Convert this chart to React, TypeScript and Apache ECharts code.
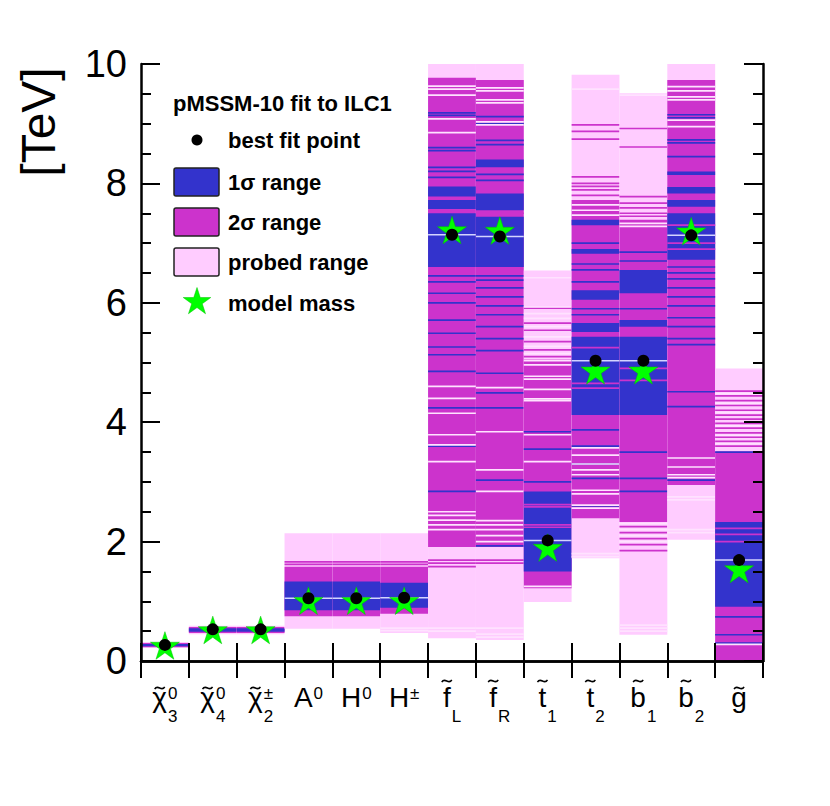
import React, { useEffect, useRef } from 'react';
import * as echarts from 'echarts';

const categories = ['chi3', 'chi4', 'chi2pm', 'A0', 'H0', 'Hpm', 'fL', 'fR', 't1', 't2', 'b1', 'b2', 'g'];
const labelBase = ['\u03C7', '\u03C7', '\u03C7', 'A', 'H', 'H', 'f', 'f', 't', 't', 'b', 'b', 'g'];
const labelTilde = ['low', 'low', 'low', '', '', '', 'high', 'high', 'high', 'high', 'high', 'high', 'low'];
const labelSub = ['3', '4', '2', '', '', '', 'L', 'R', '1', '2', '1', '2', ''];
const labelSup = ['0', '0', '\u00B1', '0', '0', '\u00B1', '', '', '', '', '', '', ''];

const yTicks = [0, 2, 4, 6, 8, 10];

const bestFit = [0.27, 0.53, 0.53, 1.05, 1.05, 1.06, 7.14, 7.11, 2.02, 5.03, 5.03, 7.13, 1.69];
const modelMass = [0.26, 0.52, 0.52, 1.01, 1.01, 1.01, 7.22, 7.21, 1.9, 4.87, 4.87, 7.2, 1.54];

const probedRange = [
  [0.22, 0.32], [0.45, 0.59], [0.45, 0.59], [0.54, 2.14], [0.54, 2.14], [0.47, 2.14],
  [0.38, 10], [0.35, 10], [0.99, 6.54], [1.72, 9.82], [0.44, 9.51], [2.03, 10], [0, 4.9],
];

const sigma2Ranges = [
  [[0.23, 0.3]],
  [[0.47, 0.57]],
  [[0.47, 0.57]],
  [[0.75, 1.58]],
  [[0.75, 1.58]],
  [[0.79, 1.58]],
  [[1.91, 9.77]],
  [[1.91, 9.73]],
  [[1.22, 5.05]],
  [[2.39, 7.72]],
  [[2.33, 7.39]],
  [[2.95, 9.73]],
  [[0, 3.51]],
];

const sigma1Ranges = [
  [[0.245, 0.285]],
  [[0.49, 0.55]],
  [[0.49, 0.55]],
  [[0.85, 1.33]],
  [[0.85, 1.33]],
  [[0.89, 1.31]],
  [[6.6, 7.5], [7.57, 7.72], [7.78, 7.95]],
  [[6.6, 7.44], [7.55, 7.83], [8.27, 8.4]],
  [[1.5, 2.84]],
  [[4.12, 5.43], [5.51, 5.66], [6.05, 6.21], [6.82, 6.9], [7.3, 7.39]],
  [[4.12, 5.43], [5.6, 5.71], [6.16, 6.55]],
  [[6.72, 7.5], [7.61, 7.72], [7.83, 7.94], [8.14, 8.2]],
  [[0.91, 2.33]],
];

const blueStripes = [
  [], [], [], [], [], [],
  [9.18, 9.14, 8.6, 8.55, 8.27, 8.2, 8.1, 6.45, 6.35, 6.16, 6.0, 5.71, 5.49, 5.26, 5.13, 4.85, 4.24, 3.6, 2.84],
  [9.12, 9.0, 8.72, 8.65, 8.15, 8.05, 6.45, 6.38, 6.25, 6.1, 5.95, 5.8, 5.6, 5.4, 5.2, 4.82, 4.49, 4.24, 3.03, 1.93],
  [3.84, 3.55, 3.0],
  [7.0, 6.65, 6.55, 6.35, 5.9, 5.8, 3.87, 3.6, 3.3, 3.06, 2.6],
  [6.85, 6.7, 5.9, 3.5, 3.06, 2.84],
  [9.15, 9.1, 8.73, 8.68, 8.45, 6.6, 6.5, 6.4, 6.25, 6.1, 5.95, 5.75, 5.6, 5.4, 5.3, 4.51, 4.26, 3.03],
  [3.5, 0.74, 0.44, 0.3],
];

const magentaStripes = [
  [], [], [],
  [1.66, 1.62], [1.66, 1.62], [1.66, 1.62],
  [1.69, 1.64, 1.58, 7.53, 7.75],
  [1.69, 1.64, 7.5],
  [5.91, 5.66, 5.54, 5.35, 5.21, 5.1, 2.62, 2.58, 2.28, 2.24],
  [8.98, 8.87, 8.74, 8.11, 8.0, 7.95, 7.89, 7.8, 4.65, 4.57, 5.25],
  [8.92, 8.61, 7.78, 7.67, 7.59, 7.5, 7.45, 4.9, 4.7, 2.25, 2.15, 2.05, 1.95, 1.85],
  [7.3, 7.0, 6.9],
  [4.52, 4.44, 4.36, 4.28, 4.2, 4.12, 4.05, 3.98, 3.9, 3.82, 3.75, 3.68, 3.6, 2.22, 2.12, 2.0],
];

const whiteStripes = [
  [], [], [], [], [],
  [0.55, 0.51],
  [9.63, 9.58, 9.48, 9.08, 8.85, 4.6, 4.4, 4.15, 3.79, 3.62, 3.34, 2.5, 2.44, 2.36, 2.28, 2.2, 0.55, 0.5],
  [9.6, 9.55, 9.4, 9.35, 9.03, 8.98, 4.58, 3.84, 3.2, 2.84, 2.35, 2.28, 2.2, 2.1, 2.0, 0.55, 0.45, 0.4],
  [6.42, 5.93, 5.82, 5.74, 5.6, 5.43, 5.27, 5.15, 5.03, 4.96, 4.77, 4.72, 4.55, 4.39, 4.36, 3.79, 3.34, 1.25],
  [9.58, 7.64, 7.55, 7.47, 3.57, 3.45, 3.3, 3.2, 3.12, 2.86, 2.8, 2.61, 2.56, 1.8, 1.75],
  [9.48, 7.33, 7.28, 2.3, 2.2, 2.1, 2.0, 0.6, 0.55, 0.5],
  [9.62, 9.55, 9.45, 9.4, 9.06, 8.95, 3.4, 3.25, 3.12, 3.07, 2.75, 2.7, 2.2, 2.15],
  [4.48, 4.32, 4.16, 3.94, 3.78, 3.64, 0.28],
];

const legendLabels = ['best fit point', '1\u03C3 range', '2\u03C3 range', 'probed range', 'model mass'];
const legendTitle = 'pMSSM-10 fit to ILC1';

const PINK = '#ffccff';
const MAGENTA = '#cc33cc';
const BLUE = '#3333cc';
const KIND_COLORS = [PINK, MAGENTA, BLUE, BLUE, MAGENTA, '#ffe2ff', '#d4d4ff'];
const FONT = '"Liberation Sans", Arial, Helvetica, sans-serif';

function starPoints(cx: number, cy: number, R: number): number[][] {
  const pts: number[][] = [];
  for (let k = 0; k < 10; k++) {
    const r = k % 2 === 0 ? R : R * 0.382;
    const a = -Math.PI / 2 + (k * Math.PI) / 5;
    pts.push([cx + r * Math.cos(a), cy + r * Math.sin(a)]);
  }
  return pts;
}

const starPath =
  'path://' +
  starPoints(0, 0, 10)
    .map((p, i) => (i === 0 ? 'M' : 'L') + p[0].toFixed(3) + ',' + p[1].toFixed(3))
    .join(' ') +
  ' Z';

export default function App() {
  const ref = useRef<HTMLDivElement>(null);
  useEffect(() => {
    const chart = echarts.init(ref.current!, null, { renderer: 'svg' });

    const bandData: number[][] = [];
    categories.forEach((_, i) => {
      bandData.push([i, probedRange[i][0], probedRange[i][1], 0]);
      sigma2Ranges[i].forEach((r) => bandData.push([i, r[0], r[1], 1]));
      sigma1Ranges[i].forEach((r) => bandData.push([i, r[0], r[1], 2]));
      blueStripes[i].forEach((v) => bandData.push([i, v, v, 3]));
      magentaStripes[i].forEach((v) => bandData.push([i, v, v, 4]));
      whiteStripes[i].forEach((v) => bandData.push([i, v, v, 5]));
      if (i >= 3) bandData.push([i, bestFit[i], bestFit[i], 6]);
    });

    const axisLineStyle = { color: '#000', width: 2.5 };
    const tickStyle = { color: '#000', width: 2 };

    const option: any = {
      animation: false,
      backgroundColor: '#fff',
      grid: { left: 141, top: 64, width: 622, height: 597, containLabel: false },
      xAxis: [
        {
          type: 'category', data: categories, position: 'bottom', boundaryGap: true, z: 10,
          axisLine: { show: true, lineStyle: axisLineStyle },
          axisTick: { show: true, inside: true, length: 18, interval: 0, lineStyle: tickStyle },
          splitLine: { show: false },
          axisLabel: { show: false },
        },
        {
          type: 'category', data: categories, position: 'top', boundaryGap: true, z: 10,
          axisLine: { show: true, lineStyle: axisLineStyle },
          axisTick: { show: true, inside: true, length: 17, interval: 0, lineStyle: tickStyle },
          axisLabel: { show: false },
          splitLine: { show: false },
        },
      ],
      yAxis: [
        {
          type: 'value', min: yTicks[0], max: yTicks[yTicks.length - 1], interval: 2, position: 'left', z: 10,
          axisLine: { show: true, lineStyle: axisLineStyle },
          axisTick: { show: true, inside: true, length: 19, lineStyle: tickStyle },
          minorTick: { show: true, splitNumber: 4, length: 10, lineStyle: tickStyle },
          splitLine: { show: false },
          axisLabel: { fontSize: 38, margin: 14, color: '#000', fontFamily: FONT },
        },
        {
          type: 'value', min: yTicks[0], max: yTicks[yTicks.length - 1], interval: 2, position: 'right', z: 10,
          axisLine: { show: true, lineStyle: axisLineStyle },
          axisTick: { show: true, inside: true, length: 19, lineStyle: tickStyle },
          minorTick: { show: true, splitNumber: 4, length: 10, lineStyle: tickStyle },
          splitLine: { show: false },
          axisLabel: { show: false },
        },
      ],
      series: [
        {
          type: 'custom',
          clip: true,
          encode: { x: 0, y: [1, 2] },
          data: bandData,
          renderItem: (_params: any, api: any) => {
            const cat = api.value(0);
            const lo = api.value(1);
            const hi = api.value(2);
            const kind = api.value(3);
            const w = api.size([1, 0])[0];
            const p0 = api.coord([cat, lo]);
            const p1 = api.coord([cat, hi]);
            let y = p1[1];
            let h = p0[1] - p1[1];
            if (kind >= 3) {
              h = kind === 6 ? 1.5 : 1.7;
              y = p0[1] - h / 2;
            }
            return {
              type: 'rect',
              shape: { x: p0[0] - w / 2, y, width: w, height: h },
              style: { fill: KIND_COLORS[kind] },
            };
          },
          z: 2,
        },
        {
          type: 'scatter',
          data: modelMass.map((v, i) => [i, v]),
          symbol: starPath,
          symbolKeepAspect: true,
          symbolSize: 29,
          itemStyle: { color: '#00ff00', borderColor: '#00c000', borderWidth: 0.5, opacity: 1 },
          z: 3,
        },
        {
          type: 'scatter',
          data: bestFit.map((v, i) => [i, v]),
          symbol: 'circle',
          symbolSize: 12,
          itemStyle: { color: '#000', opacity: 1 },
          z: 4,
        },
      ],
    };
    chart.setOption(option);

    // legend and axis title
    const legendX = 174;
    const textX = 228;
    const graphic: any[] = [
      {
        type: 'text', x: 38, y: 122, rotation: Math.PI / 2,
        style: { text: '[TeV]', font: `48px ${FONT}`, fill: '#000', align: 'center', verticalAlign: 'middle' },
        z: 20,
      },
      {
        type: 'text', x: 173, y: 103,
        style: { text: legendTitle, font: `bold 22px ${FONT}`, fill: '#000', verticalAlign: 'middle' },
        z: 20,
      },
      { type: 'circle', shape: { cx: 197, cy: 140, r: 5.5 }, style: { fill: '#000' }, z: 20 },
      { type: 'rect', shape: { x: legendX, y: 168, width: 45, height: 28, r: 2 }, style: { fill: BLUE, stroke: '#222', lineWidth: 1.5 }, z: 20 },
      { type: 'rect', shape: { x: legendX, y: 208, width: 45, height: 28, r: 2 }, style: { fill: MAGENTA, stroke: '#222', lineWidth: 1.5 }, z: 20 },
      { type: 'rect', shape: { x: legendX, y: 248, width: 45, height: 28, r: 2 }, style: { fill: PINK, stroke: '#222', lineWidth: 1.5 }, z: 20 },
      { type: 'polygon', shape: { points: starPoints(197, 302, 14.5) }, style: { fill: '#00ff00', stroke: '#00c000', lineWidth: 0.5 }, z: 20 },
    ];
    const legendYs = [140, 182, 222, 262, 303];
    legendLabels.forEach((t, k) => {
      graphic.push({
        type: 'text', x: textX, y: legendYs[k],
        style: { text: t, font: `bold 22px ${FONT}`, fill: '#000', verticalAlign: 'middle' },
        z: 20,
      });
    });

    // category labels positioned through the category axis
    const canvas = document.createElement('canvas');
    const ctx = canvas.getContext('2d')!;
    const measure = (t: string, size: number) => {
      ctx.font = `${size}px ${FONT}`;
      return ctx.measureText(t).width;
    };
    const axisY = chart.convertToPixel({ yAxisIndex: 0 }, 0) as number;
    const baseline = axisY + 46;
    const MAIN = 28;
    const SMALL = 17;
    categories.forEach((_, i) => {
      const cx = chart.convertToPixel({ xAxisIndex: 0 }, i) as number;
      const base = labelBase[i];
      const wm = measure(base, MAIN);
      const ws = Math.max(labelSub[i] ? measure(labelSub[i], SMALL) : 0, labelSup[i] ? measure(labelSup[i], SMALL) : 0);
      const gap = ws ? 1 : 0;
      const left = cx - (wm + gap + ws) / 2;
      graphic.push({
        type: 'text', x: left, y: baseline - 0.3465 * MAIN,
        style: { text: base, font: `${MAIN}px ${FONT}`, fill: '#000', verticalAlign: 'middle' },
        z: 20,
      });
      if (labelSup[i]) {
        graphic.push({
          type: 'text', x: left + wm + gap, y: baseline - 8 - 0.3465 * SMALL,
          style: { text: labelSup[i], font: `${SMALL}px ${FONT}`, fill: '#000', verticalAlign: 'middle' },
          z: 20,
        });
      }
      if (labelSub[i]) {
        graphic.push({
          type: 'text', x: left + wm + gap, y: baseline + 15 - 0.3465 * SMALL,
          style: { text: labelSub[i], font: `${SMALL}px ${FONT}`, fill: '#000', verticalAlign: 'middle' },
          z: 20,
        });
      }
      if (labelTilde[i]) {
        const tx = left + wm / 2;
        const ty = labelTilde[i] === 'high' ? baseline - 26 : baseline - 19;
        graphic.push({
          type: 'bezierCurve',
          shape: { x1: tx - 5, y1: ty + 1.2, cpx1: tx - 2, cpy1: ty - 4.5, cpx2: tx + 2, cpy2: ty + 4.5, x2: tx + 5, y2: ty - 1.2 },
          style: { stroke: '#000', lineWidth: 1.5, fill: 'none' },
          z: 20,
        });
      }
    });
    chart.setOption({ graphic });
    return () => chart.dispose();
  }, []);
  return <div ref={ref} style={{ position: 'absolute', left: 0, top: 0, width: 830, height: 806 }} />;
}
